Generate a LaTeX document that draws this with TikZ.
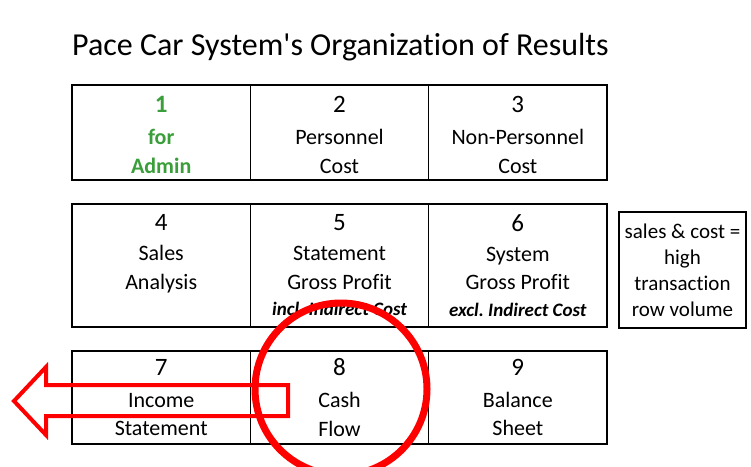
\documentclass[tikz,border=0pt]{standalone}
\usepackage{fontspec}
\setmainfont{Carlito}[Ligatures={NoCommon}]
\usepackage{tikz}
\usetikzlibrary{positioning}

\definecolor{admingreen}{RGB}{58,158,58}
\definecolor{markred}{RGB}{255,0,0}
\newcommand{\cnum}[1]{{\fontsize{25}{30}\selectfont #1}}
\newcommand{\cnote}[1]{{\fontsize{19}{20}\selectfont\bfseries\itshape #1}}
\newcommand{\toppad}{\rule{0pt}{21pt}}
\frenchspacing

\begin{document}
\begin{tikzpicture}[x=1pt, y=-1pt,
    cell/.style={draw, line width=1.6pt, rectangle, minimum width=178.3pt,
        inner sep=0pt, align=center, font=\fontsize{22}{28.5}\selectfont},
    row1/.style={cell, minimum height=95pt},
    row2/.style={cell, minimum height=123pt},
    row3/.style={cell, minimum height=93pt}]

    \useasboundingbox (0,0) rectangle (751,466);

    % Title
    \node[anchor=base west, inner sep=0pt, font=\fontsize{32}{40}\selectfont] (title) at (72,55) {Pace Car System\textquotesingle s Organization of Results};

    % Row 1
    \begin{scope}
        \node[row1, text=admingreen, font=\fontsize{22}{28.5}\selectfont\bfseries] (c1) at (161.2,132.5) {\toppad\cnum{1}\\[3.5pt]for\\Admin};
        \node[row1] (c2) at (339.5,132.5) {\toppad\cnum{2}\\[3.5pt]Personnel\\Cost};
        \node[row1] (c3) at (517.8,132.5) {\toppad\cnum{3}\\[3.5pt]Non-Personnel\\Cost};
    \end{scope}

    % Row 2
    \begin{scope}
        \node[row2] (c4) at (161.2,265.5) {\cnum{4}\\[1.5pt]Sales\\Analysis\\[-2pt]\cnote{\vphantom{incl. Indirect Cost}}};
        \node[row2] (c5) at (339.5,265.5) {\cnum{5}\\[1.5pt]Statement\\Gross Profit\\[-2pt]\cnote{incl. Indirect Cost}};
        \node[row2] (c6) at (517.8,265.5) {\cnum{6}\\[1.5pt]System\\Gross Profit\\[-2pt]\cnote{excl. Indirect Cost}};

        \node[draw, line width=1.2pt, rectangle, minimum width=127pt, minimum height=116pt, inner sep=0pt,
            align=center, font=\fontsize{21}{26}\selectfont] (volume) at (682.5,270) {sales \& cost =\\high\\transaction\\row volume};
    \end{scope}

    % Row 3
    \begin{scope}
        \node[row3] (c7) at (161.2,397.5) {\cnum{7}\\[3.5pt]Income\\Statement};
        \node[row3] (c8) at (339.5,397.5) {\cnum{8}\\[3.5pt]Cash\\Flow};
        \node[row3] (c9) at (517.8,397.5) {\cnum{9}\\[3.5pt]Balance\\Sheet};
    \end{scope}

    % Red markings
    \draw[markred, line width=4pt, line join=miter] (14,401) -- (46,367) -- (46,385) -- (288,385)
        -- (288,416) -- (46,416) -- (46,435) -- cycle;
    \draw[markred, line width=7pt] (341,389) circle (86);

\end{tikzpicture}
\end{document}
